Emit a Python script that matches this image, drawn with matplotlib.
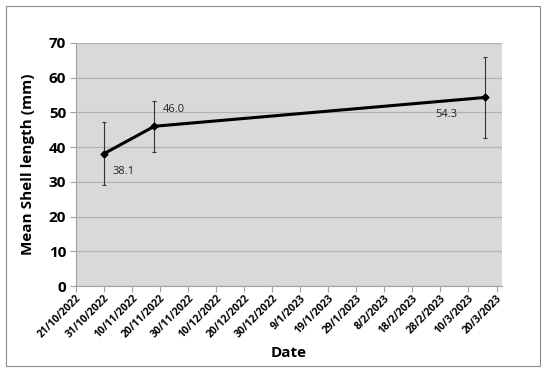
import matplotlib.pyplot as plt
import pandas as pd
from matplotlib.patches import Rectangle

# Data
dates = pd.to_datetime(['2022-10-31', '2022-11-18', '2023-03-16'])
mean_len = [38.1, 46.0, 54.3]
err = [9.1, 7.4, 11.6]
labels = ['38.1', '46.0', '54.3']
label_offsets = [(14, -13), (14, 12), (-28, -12)]

tick_dates = pd.date_range('2022-10-21', periods=16, freq='10D')
tick_labels = [f'{d.day}/{d.month}/{d.year}' for d in tick_dates]

plt.rcParams['font.family'] = ['Open Sans', 'DejaVu Sans']

fig = plt.figure(figsize=(5.5, 3.7), dpi=100)
ax = fig.add_axes([0.138, 0.227, 0.775, 0.657])
fig.patches.append(Rectangle((0.011, 0.011), 0.971, 0.973, transform=fig.transFigure,
                             fill=False, edgecolor='#8c8c8c', linewidth=0.8))

ax.set_facecolor('#d9d9d9')
ax.errorbar(dates, mean_len, yerr=err, color='black', linewidth=2.2, marker='D',
            markersize=3.5, ecolor='#333333', elinewidth=0.8, capsize=1.5, capthick=0.8)

for d, v, t, off in zip(dates, mean_len, labels, label_offsets):
    ax.annotate(t, (d, v), xytext=off, textcoords='offset points', fontsize=8,
                ha='center', va='center', color='#222222')

ax.set_ylim(0, 70)
ax.set_yticks(range(0, 71, 10))
ax.set_xlim(pd.Timestamp('2022-10-21'), pd.Timestamp('2023-03-22'))
ax.set_xticks(tick_dates)
ax.set_xticklabels(tick_labels, rotation=45, ha='right', rotation_mode='anchor',
                   fontsize=7.5, fontweight='bold')
for lbl in ax.get_yticklabels():
    lbl.set_fontweight('bold')
ax.tick_params(axis='y', labelsize=11, length=4, color='#a0a0a0', pad=3)
ax.tick_params(axis='x', length=4, color='#a0a0a0', pad=1)

ax.grid(axis='y', color='#b3b3b3', linewidth=0.9)
ax.set_axisbelow(True)
for s in ['top', 'right']:
    ax.spines[s].set_visible(False)
for s in ['left', 'bottom']:
    ax.spines[s].set_color('#a0a0a0')
    ax.spines[s].set_linewidth(0.8)

ax.set_ylabel('Mean Shell length (mm)', fontsize=11, fontweight='bold', labelpad=10)
ax.set_xlabel('Date', fontsize=11, fontweight='bold', labelpad=4)

fig.savefig('out.png', dpi=100)
